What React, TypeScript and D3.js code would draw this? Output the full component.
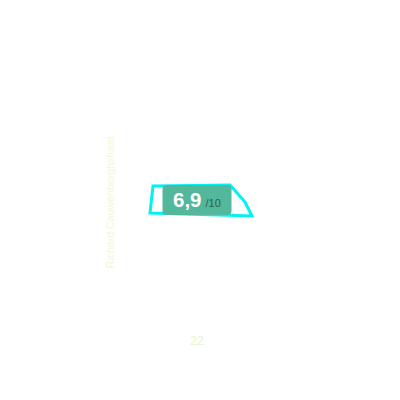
import { useEffect, useRef } from 'react';
import * as d3 from 'd3';

// building outline, map units (metres from the tile corner)
const outlineX = [76.5, 115, 122.5, 126, 75];
const outlineY = [93, 92.5, 101, 108, 106.5];

const score = 6.9;
const scoreMax = 10;

const streetName = 'Richard Cauwenberghstraat';
const streetAt = [55.5, 101.2];
const houseNumber = '22';
const houseAt = [98.5, 171];

export default function App() {
  const svgRef = useRef<SVGSVGElement>(null);

  useEffect(() => {
    if (!svgRef.current) return;
    const svg = d3.select(svgRef.current);
    svg.selectAll('*').remove();

    const size = 400;
    const x = d3.scaleLinear().domain([0, 200]).range([0, size]);
    const y = d3.scaleLinear().domain([0, 200]).range([0, size]);

    const g = svg.append('g');

    // street label
    g.append('text')
      .attr('transform', `translate(${x(streetAt[0])},${y(streetAt[1])}) rotate(-90)`)
      .attr('text-anchor', 'middle')
      .attr('dominant-baseline', 'middle')
      .attr('font-family', 'Liberation Sans, Arial, sans-serif')
      .attr('font-size', '10.6px')
      .attr('fill', '#f1f8d6')
      .text(streetName);

    // house number
    g.append('text')
      .attr('x', x(houseAt[0]))
      .attr('y', y(houseAt[1]))
      .attr('text-anchor', 'middle')
      .attr('dominant-baseline', 'middle')
      .attr('font-family', 'Liberation Sans, Arial, sans-serif')
      .attr('font-size', '12px')
      .attr('fill', '#e8f5cc')
      .text(houseNumber);

    // building outline
    const pts: [number, number][] = outlineX.map((v, i) => [x(v), y(outlineY[i])]);
    const line = d3.line().curve(d3.curveLinearClosed);
    g.append('path')
      .attr('d', line(pts))
      .attr('fill', 'none')
      .attr('stroke', '#00f2f2')
      .attr('stroke-width', 3)
      .attr('stroke-linejoin', 'miter');

    // score badge, centred on the outline
    const cx = x(98.5);
    const cy = y(100);
    const bw = 69;
    const bh = 30;
    g.append('rect')
      .attr('x', cx - bw / 2)
      .attr('y', cy - bh / 2)
      .attr('width', bw)
      .attr('height', bh)
      .attr('rx', 4)
      .attr('fill', '#52b79b');

    const label = g.append('text')
      .attr('x', cx - 24)
      .attr('y', cy + 7)
      .attr('font-family', 'Liberation Sans, Arial, sans-serif');
    label.append('tspan')
      .attr('font-size', '20.5px')
      .attr('font-weight', 'bold')
      .attr('fill', '#ffffff')
      .text(d3.format('.1f')(score).replace('.', ','));
    label.append('tspan')
      .attr('dx', 4)
      .attr('font-size', '11px')
      .attr('fill', '#2f5f50')
      .text(`/${scoreMax}`);
  }, []);

  return (
    <svg
      ref={svgRef}
      width={400}
      height={400}
      style={{ position: 'absolute', left: 0, top: 0, background: '#ffffff' }}
    />
  );
}
